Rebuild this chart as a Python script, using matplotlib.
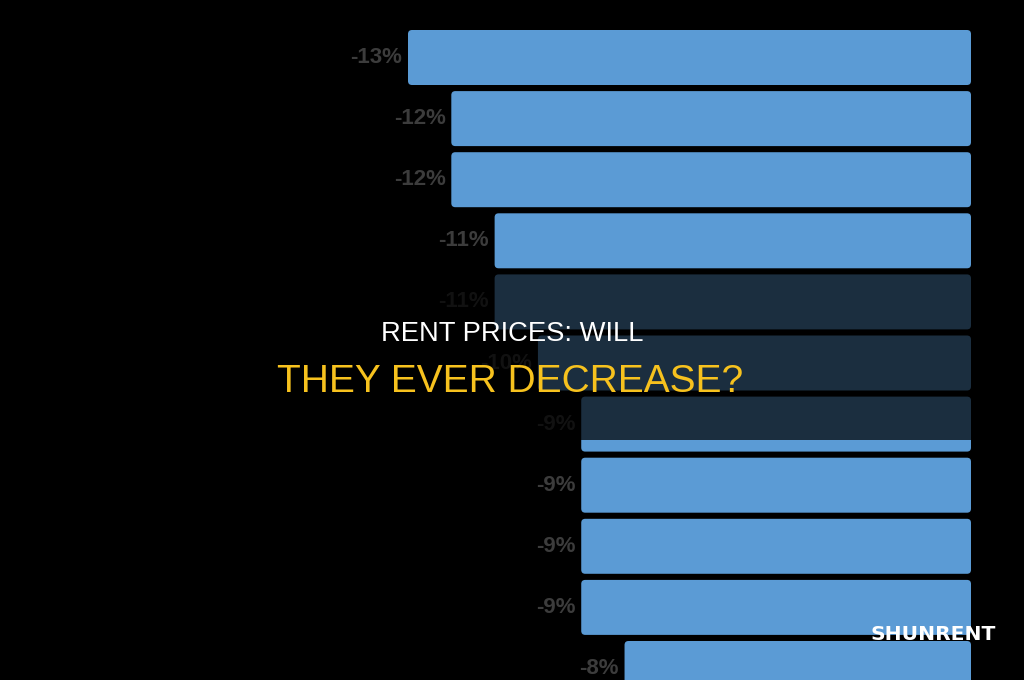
import matplotlib
matplotlib.use("Agg")
import matplotlib.pyplot as plt
from matplotlib.patches import FancyBboxPatch, Rectangle

# ---- data ----
values = [-13, -12, -12, -11, -11, -10, -9, -9, -9, -9, -8]
value_labels = ["-13%", "-12%", "-12%", "-11%", "-11%", "-10%", "-9%", "-9%", "-9%", "-9%", "-8%"]
title_line1 = "RENT PRICES: WILL"
title_line2 = "THEY EVER DECREASE?"
watermark = "SHUNRENT"

BAR_COLOR = "#5b9bd5"
LABEL_COLOR = "#3c3c3c"
W, H = 1024, 680

fig = plt.figure(figsize=(W / 100, H / 100), dpi=100, facecolor="black")
ax = fig.add_axes([0, 0, 971 / W, 1])
ax.set_facecolor("black")

px_per_unit_x = (971 - 408) / 13.0
pitch = 61.1
ax.set_xlim(-971 / px_per_unit_x, 0)
ax.set_ylim((680 - 57.5) / pitch, -57.5 / pitch)
ax.axis("off")

pos = list(range(len(values)))
bars = ax.barh(pos, values, height=0.9, color=BAR_COLOR)

# replace the rectangles by slightly rounded boxes built from the bar geometry
r_px = 4
for b in bars:
    b.set_visible(False)
    x0, y0, w, h = b.get_x(), b.get_y(), b.get_width(), b.get_height()
    if w < 0:
        x0, w = x0 + w, -w
    p = FancyBboxPatch((x0, y0), w, h,
                       boxstyle=f"round,pad=0,rounding_size={r_px / px_per_unit_x}",
                       mutation_aspect=px_per_unit_x / pitch,
                       facecolor=BAR_COLOR, edgecolor="none")
    ax.add_patch(p)

ax.bar_label(bars, labels=value_labels, padding=4, color=LABEL_COLOR,
             fontsize=16, fontweight="bold", family="Liberation Sans")

# dark overlay band
fig.patches.append(Rectangle((0, 1 - 440 / H), 1, 170 / H, transform=fig.transFigure,
                             facecolor="black", alpha=0.7, edgecolor="none", zorder=5))

fig.text(512 / W, 1 - 334 / H, title_line1, color="white", fontsize=19.7,
         family="Liberation Sans", ha="center", va="center", zorder=10)
fig.text(510 / W, 1 - 382 / H, title_line2, color="#f7c21e", fontsize=28,
         family="Liberation Sans", ha="center", va="center", zorder=10)

fig.text(933.5 / W, 1 - 635 / H, watermark, color="white", fontsize=14.6,
         fontweight="bold", family="DejaVu Sans", ha="center", va="center", zorder=10)

fig.savefig("out.png", dpi=100, facecolor="black")
